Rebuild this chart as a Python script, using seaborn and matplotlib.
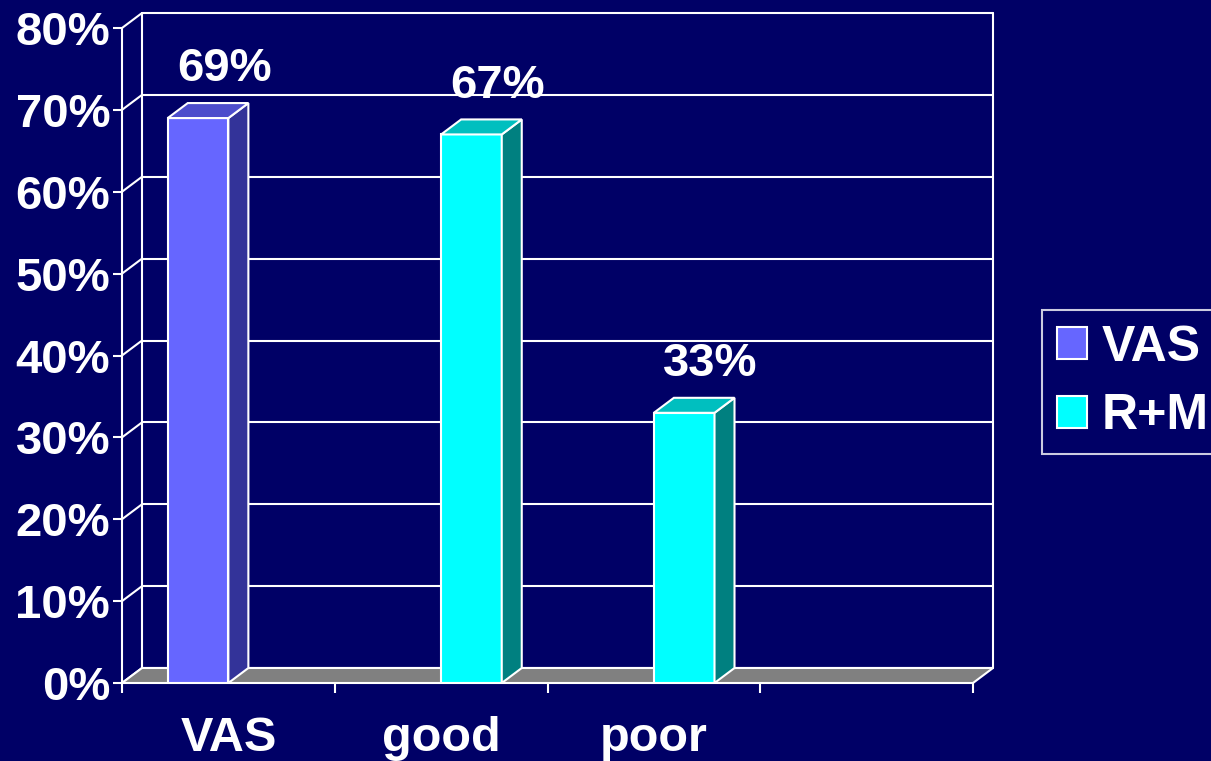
import numpy as np
import pandas as pd
import seaborn as sns
import matplotlib.pyplot as plt
from matplotlib.colors import to_rgb
from matplotlib.patches import Polygon, Patch
from matplotlib.ticker import FuncFormatter

# values
categories = ['VAS', 'good', 'poor', '']
series = ['VAS', 'R+M', 'R+M']
values = [69, 67, 33]
bar_cats = ['VAS', 'good', 'poor']
series_order = ['VAS', 'R+M']

bg = '#000066'
front = {'VAS': '#6666ff', 'R+M': '#00ffff'}
side = {'VAS': '#333399', 'R+M': '#008080'}
top = {'VAS': '#4d4dcc', 'R+M': '#00bfbf'}

sns.set_style('dark')
plt.rcParams['font.family'] = ['Liberation Sans', 'DejaVu Sans']
plt.rcParams['font.weight'] = 'bold'

df = pd.DataFrame({'cat': bar_cats, 'series': series, 'value': values})

fig = plt.figure(figsize=(12.11, 7.61), dpi=100, facecolor=bg)
ax = fig.add_axes([122 / 1211, 78 / 761, 851 / 1211, 655 / 761])
ax.set_facecolor('none')

sns.barplot(data=df, x='cat', y='value', hue='series', order=categories,
            hue_order=series_order, palette=front, saturation=1, width=0.57, dodge=True,
            edgecolor='white', linewidth=1.5, legend=False, ax=ax, zorder=3)

ax.set_xlim(-0.5, 3.5)
ax.set_ylim(0, 80)

# depth offset of the pseudo 3D box (20 px right, 15 px up)
dx = 20 * 4 / 851
dy = 15 * 80 / 655
x0, x1 = -0.5, 3.5
lw = 1.5
yt = np.arange(0, 81, 10)

# back wall grid + side wall connectors
for v in yt:
    ax.plot([x0 + dx, x1 + dx], [v + dy, v + dy], color='white', lw=lw, clip_on=False, zorder=1)
    ax.plot([x0, x0 + dx], [v, v + dy], color='white', lw=lw, clip_on=False, zorder=1)
for xe in (x0 + dx, x1 + dx):
    ax.plot([xe, xe], [dy, 80 + dy], color='white', lw=lw, clip_on=False, zorder=1)
ax.plot([x0, x0], [0, 80], color='white', lw=lw, clip_on=False, zorder=1)

# floor
ax.add_patch(Polygon([(x0, 0), (x1, 0), (x1 + dx, dy), (x0 + dx, dy)], closed=True,
                     facecolor='#808080', edgecolor='white', lw=lw, clip_on=False, zorder=2))

# 3D faces of the bars
bars = [p for p in ax.patches if isinstance(p, plt.Rectangle) and p.get_height() > 0 and p.get_width() < 1]
for p in bars:
    bx, bw, bh = p.get_x(), p.get_width(), p.get_height()
    key = 'VAS' if np.allclose(p.get_facecolor()[:3], to_rgb(front['VAS']), atol=0.02) else 'R+M'
    ax.add_patch(Polygon([(bx + bw, 0), (bx + bw + dx, dy), (bx + bw + dx, bh + dy), (bx + bw, bh)],
                         closed=True, facecolor=side[key], edgecolor='white', lw=lw, zorder=3, clip_on=False))
    ax.add_patch(Polygon([(bx, bh), (bx + dx, bh + dy), (bx + bw + dx, bh + dy), (bx + bw, bh)],
                         closed=True, facecolor=top[key], edgecolor='white', lw=lw, zorder=3, clip_on=False))
    ax.annotate(f'{bh:.0f}%', (bx + bw / 2, bh), xytext=(19, 35), textcoords='offset points',
                ha='center', va='center', color='white', fontsize=34, fontweight='bold',
                annotation_clip=False)

for s in ax.spines.values():
    s.set_visible(False)

ax.set_yticks(yt)
ax.yaxis.set_major_formatter(FuncFormatter(lambda v, _: f'{v:.0f}%'))
ax.tick_params(axis='y', colors='white', labelsize=34, length=6.5, width=lw, pad=2, direction='out', left=True)
ax.set_xticks(range(len(categories)))
ax.set_xticklabels(categories)
ax.set_xticks(np.arange(x0, x1 + 0.1, 1), minor=True)
ax.tick_params(axis='x', which='major', length=0, labelsize=35, colors='white', pad=24)
ax.tick_params(axis='x', which='minor', length=7, width=lw, color='white', bottom=True)
for t in ax.get_xticklabels() + ax.get_yticklabels():
    t.set_fontweight('bold')
ax.set_xlabel('')
ax.set_ylabel('')
ax.grid(False)

handles = [Patch(facecolor=front[s], edgecolor='white', lw=1.5) for s in series_order]
leg = fig.legend(handles, series_order, loc='center left', bbox_to_anchor=(1042 / 1211, (761 - 382) / 761),
                 bbox_transform=fig.transFigure, borderaxespad=0, fancybox=False, frameon=True,
                 prop={'weight': 'bold', 'size': 36}, labelcolor='white', handlelength=0.6,
                 handleheight=0.6, handletextpad=0.3, labelspacing=0.45, borderpad=0.3)
leg.get_frame().set_facecolor(bg)
leg.get_frame().set_edgecolor('white')
leg.get_frame().set_linewidth(1.5)

fig.savefig('out.png', dpi=100, facecolor=bg)
